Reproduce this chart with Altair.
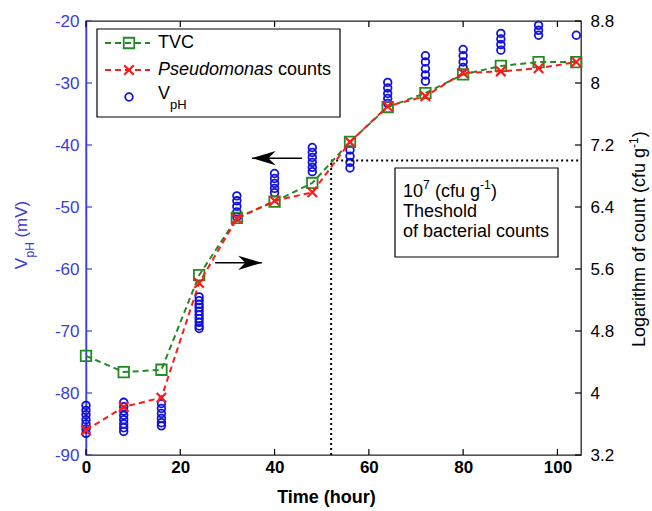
import altair as alt
import pandas as pd

# ---------------- data ----------------
times = [0, 8, 16, 24, 32, 40, 48, 56, 64, 72, 80, 88, 96, 104]
tvc_log = [4.48, 4.27, 4.30, 5.52, 6.26, 6.47, 6.71, 7.24, 7.69, 7.87, 8.11, 8.22, 8.27, 8.27]
pseudomonas_log = [3.52, 3.82, 3.94, 5.42, 6.25, 6.48, 6.59, 7.24, 7.70, 7.83, 8.13, 8.15, 8.19, 8.27]
vph_readings = [
    [-82.0, -82.8, -83.5, -84.3, -85.0, -85.8, -86.5],
    [-81.5, -82.2, -82.9, -83.6, -84.3, -85.0, -85.6, -86.2],
    [-81.7, -82.5, -83.3, -84.1, -84.8, -85.3],
    [-64.5, -65.1, -65.7, -66.2, -66.8, -67.4, -68.0, -68.6, -69.2, -69.6],
    [-48.2, -49.0, -49.9, -50.8, -51.6],
    [-44.6, -45.4, -46.2, -47.0, -47.7],
    [-40.4, -41.2, -42.0, -42.8, -43.6, -44.3],
    [-40.8, -41.8, -42.8, -43.7],
    [-29.9, -30.8, -31.7, -32.5, -33.3],
    [-25.6, -26.6, -27.7, -28.7, -29.7],
    [-24.6, -25.6, -26.6, -27.5],
    [-22.0, -22.9, -23.8, -24.7],
    [-20.7, -21.5, -22.3],
    [-22.3],
]
x_ticks = [0, 20, 40, 60, 80, 100]
vph_ticks = [-90, -80, -70, -60, -50, -40, -30, -20]
log_ticks = [3.2, 4.0, 4.8, 5.6, 6.4, 7.2, 8.0, 8.8]
threshold_time = 52
threshold_log = 7.0
arrow_left = {"tail": 45.8, "head": 35.2, "log": 7.03}
arrow_right = {"tail": 27.4, "head": 37.3, "log": 5.68}

# ---------------- styling ----------------
FONT = "Liberation Sans"
BLUE = "#1010e0"
BLUE_AX = "#3c3cdc"
GREEN = "#238b23"
RED = "#ff1a1a"
W, H = 495, 434
X_DOMAIN = [0, 105]

df_v = pd.DataFrame(
    [{"t": t, "v": v} for t, vals in zip(times, vph_readings) for v in vals]
)
df_c = pd.DataFrame({"t": times, "tvc": tvc_log, "ps": pseudomonas_log})
df_xt = pd.DataFrame({"t": x_ticks})
df_vt = pd.DataFrame({"v": vph_ticks})
df_lt = pd.DataFrame({"log": log_ticks})
one = pd.DataFrame({"a": [0]})


def X(field, axis=None):
    return alt.X(field, type="quantitative",
                 scale=alt.Scale(domain=X_DOMAIN, nice=False, zero=False), axis=axis)


left_scale = alt.Scale(domain=[-90, -20], nice=False, zero=False)
right_scale = alt.Scale(domain=[3.2, 8.8], nice=False, zero=False)


def YL(field, axis=None):
    return alt.Y(field, type="quantitative", scale=left_scale, axis=axis)


def YR(field, axis=None):
    return alt.Y(field, type="quantitative", scale=right_scale, axis=axis)


x_axis = alt.Axis(orient="bottom", values=x_ticks, ticks=False, domain=False, grid=False,
                  labelFontSize=17, labelFontWeight="bold", labelColor="black",
                  labelPadding=4, labelFlush=False, labelFont=FONT,
                  title="Time (hour)", titleFontSize=18, titleFontWeight="bold",
                  titleFont=FONT, titlePadding=13, titleColor="black", titleX=240)
left_axis = alt.Axis(orient="left", values=vph_ticks, ticks=False, domain=True,
                     domainColor=BLUE_AX, domainWidth=1.5, grid=False,
                     labelColor=BLUE_AX, labelFontSize=17, labelPadding=7,
                     labelFont=FONT, title="",
                     labelExpr="'-' + abs(datum.value)")
right_axis = alt.Axis(orient="right", values=log_ticks, ticks=False, domain=False,
                      grid=False, labelColor="black", labelFontSize=17,
                      labelPadding=9, labelFont=FONT, title="", format="~g")


def txt(s, x, y, size=18, color="black", style="normal", angle=0, align="left"):
    kw = dict(text=s, align=align, baseline="middle", fontSize=size, font=FONT,
              color=color, fontStyle=style)
    if angle:
        kw["angle"] = angle
    return alt.Chart(one).mark_text(**kw).encode(x=alt.value(x), y=alt.value(y))


# ---------------- data layers ----------------
pts = alt.Chart(df_v).mark_point(shape="circle", filled=False, color=BLUE, opacity=1,
                                 size=58, strokeWidth=1.8).encode(
    x=X("t", x_axis), y=YL("v", left_axis))

tvc_line = alt.Chart(df_c).mark_line(color=GREEN, strokeDash=[6, 4], strokeWidth=2).encode(
    x=X("t"), y=YR("tvc", right_axis))
tvc_pts = alt.Chart(df_c).mark_point(shape="square", filled=False, color=GREEN, opacity=1,
                                     size=110, strokeWidth=1.8).encode(
    x=X("t"), y=YR("tvc"))
ps_line = alt.Chart(df_c).mark_line(color=RED, strokeDash=[6, 4], strokeWidth=2).encode(
    x=X("t"), y=YR("ps"))
ps_pts = alt.Chart(df_c).mark_point(shape="M-1,-1L1,1M-1,1L1,-1", filled=False, color=RED,
                                    opacity=1, size=90, strokeWidth=2.2).encode(
    x=X("t"), y=YR("ps"))

# ---------------- frame ticks (inward, MATLAB style) ----------------
lticks = alt.Chart(df_vt).mark_rule(color=BLUE_AX, strokeWidth=1.2).encode(
    y=YL("v"), x=alt.value(0), x2=alt.value(6))
rticks = alt.Chart(df_lt).mark_rule(color="black", strokeWidth=1.2).encode(
    y=YR("log"), x=alt.value(W), x2=alt.value(W - 6))
bticks = alt.Chart(df_xt).mark_rule(color="black", strokeWidth=1.2).encode(
    x=X("t"), y=alt.value(H), y2=alt.value(H - 6))
tticks = alt.Chart(df_xt).mark_rule(color="black", strokeWidth=1.2).encode(
    x=X("t"), y=alt.value(0), y2=alt.value(6))

# ---------------- threshold + arrows ----------------
df_th_h = pd.DataFrame({"t": [threshold_time], "t2": [X_DOMAIN[1]], "log": [threshold_log]})
df_th_v = pd.DataFrame({"t": [threshold_time], "log": [log_ticks[0]], "log2": [threshold_log]})
th_h = alt.Chart(df_th_h).mark_rule(color="black", strokeDash=[2, 3], strokeWidth=2).encode(
    x=X("t"), x2=alt.X2("t2"), y=YR("log"))
th_v = alt.Chart(df_th_v).mark_rule(color="black", strokeDash=[2, 3], strokeWidth=2).encode(
    x=X("t"), y=YR("log"), y2=alt.Y2("log2"))

df_al = pd.DataFrame([arrow_left])
df_ar = pd.DataFrame([arrow_right])
al_shaft = alt.Chart(df_al).mark_rule(color="black", strokeWidth=1.5).encode(
    x=X("tail"), x2=alt.X2("head"), y=YR("log"))
al_head = alt.Chart(df_al).mark_point(shape="M0,0L2,-0.6L1.4,0L2,0.6Z", filled=True,
                                      color="black", size=560, opacity=1).encode(
    x=X("head"), y=YR("log"))
ar_shaft = alt.Chart(df_ar).mark_rule(color="black", strokeWidth=1.5).encode(
    x=X("tail"), x2=alt.X2("head"), y=YR("log"))
ar_head = alt.Chart(df_ar).mark_point(shape="M0,0L-2,-0.6L-1.4,0L-2,0.6Z", filled=True,
                                      color="black", size=560, opacity=1).encode(
    x=X("head"), y=YR("log"))

# ---------------- annotation box ----------------
box = alt.Chart(one).mark_rect(fill="white", stroke="black", strokeWidth=1.2).encode(
    x=alt.value(309), x2=alt.value(472), y=alt.value(147), y2=alt.value(236))
box_texts = [
    txt("10", 317, 171),
    txt("7", 337, 164, size=12),
    txt("(cfu g", 349, 171),
    txt("-1", 394, 164, size=12),
    txt(")", 405, 171),
    txt("Theshold", 317, 191),
    txt("of bacterial counts", 317, 211),
]

# ---------------- legend ----------------
leg_box = alt.Chart(one).mark_rect(fill="white", stroke="black", strokeWidth=1.2).encode(
    x=alt.value(11), x2=alt.value(254), y=alt.value(8), y2=alt.value(96))
leg_g_line = alt.Chart(one).mark_rule(color=GREEN, strokeDash=[6, 4], strokeWidth=2).encode(
    x=alt.value(19), x2=alt.value(64), y=alt.value(22))
leg_g_pt = alt.Chart(one).mark_point(shape="square", filled=False, color=GREEN, opacity=1,
                                     size=110, strokeWidth=1.8).encode(
    x=alt.value(43), y=alt.value(22))
leg_r_line = alt.Chart(one).mark_rule(color=RED, strokeDash=[6, 4], strokeWidth=2).encode(
    x=alt.value(19), x2=alt.value(64), y=alt.value(49))
leg_r_pt = alt.Chart(one).mark_point(shape="M-1,-1L1,1M-1,1L1,-1", filled=False, color=RED,
                                     opacity=1, size=90, strokeWidth=2.2).encode(
    x=alt.value(43), y=alt.value(49))
leg_b_pt = alt.Chart(one).mark_point(shape="circle", filled=False, color=BLUE, opacity=1,
                                     size=58, strokeWidth=1.8).encode(
    x=alt.value(43), y=alt.value(76))
leg_texts = [
    txt("TVC", 72, 22),
    txt("Pseudomonas", 72, 49, style="italic"),
    txt("counts", 192, 49),
    txt("V", 72, 73),
    txt("pH", 84, 84, size=13),
]

# ---------------- axis titles with sub/superscripts ----------------
lt = [
    txt("V\u2002\u2002\u2009(mV)", -64, 214, size=17, color=BLUE_AX, angle=270, align="center"),
    txt("pH", -56, 236.5, size=12, color=BLUE_AX, angle=270),
]
rt = [
    txt("Logarithm of count (cfu g", 554, 326, size=18, angle=270),
    txt("-1", 548, 126.9, size=12, angle=270),
    txt(")", 554, 116.2, size=18, angle=270),
]

chart = alt.layer(
    pts, lticks, bticks, tticks,
    th_h, th_v, tvc_line, tvc_pts, ps_line, ps_pts,
    al_shaft, al_head, ar_shaft, ar_head, rticks,
    box, *box_texts,
    leg_box, leg_g_line, leg_g_pt, leg_r_line, leg_r_pt, leg_b_pt, *leg_texts,
    *lt, *rt,
).resolve_scale(y="independent").resolve_axis(x="independent").properties(
    width=W, height=H,
    autosize=alt.AutoSizeParams(type="none"),
    padding={"left": 86, "top": 21, "right": 71, "bottom": 56},
    background="white",
).configure_view(stroke="#222222", strokeWidth=1.3)

chart.save("out.html", embed_options={"renderer": "svg", "actions": False})
